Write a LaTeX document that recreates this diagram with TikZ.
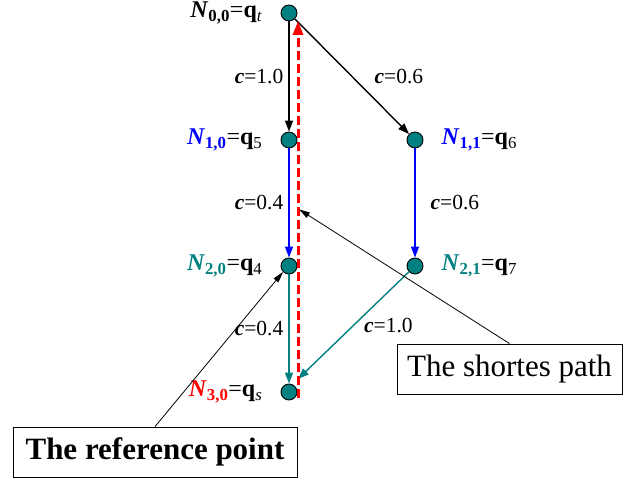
\documentclass[tikz,border=0pt]{standalone}
\usepackage{fontspec}
\setmainfont{Liberation Serif}
\usetikzlibrary{arrows.meta,positioning,calc}

\definecolor{nodeteal}{RGB}{0,128,128}
\newcommand{\nname}[3]{{\color{#1}\textbf{\textit{N}\textsubscript{#2}}}=\textbf{q}\textsubscript{#3}}
\newcommand{\cost}[1]{\textbf{\textit{c}}=#1}

\begin{document}
\begin{tikzpicture}[x=1pt, y=-1pt,
    vertex/.style={circle, draw, fill=nodeteal, minimum size=16pt, inner sep=0pt, line width=0.9pt},
    arrow/.style={-{Triangle[length=11pt,width=8pt]}, line width=1.4pt},
    tag/.style={inner sep=0pt, font=\fontsize{24}{28}\selectfont},
    weight/.style={inner sep=0pt, font=\fontsize{21.5}{25}\selectfont},
    callout/.style={draw, line width=0.8pt, minimum height=50pt, font=\fontsize{31}{36}\selectfont},
    pointer/.style={-{Triangle[length=11pt,width=6pt]}, line width=0.8pt},
    shortest/.style={-{Triangle[length=14pt,width=10pt]}, red, dash pattern=on 9pt off 4pt, line width=3pt}
]
\useasboundingbox (0,0) rectangle (637,481);

% Search tree nodes
\node[vertex] (n00) at (289,13) {};
\node[vertex] (n10) at (289,140) {};
\node[vertex] (n11) at (415,140) {};
\node[vertex] (n20) at (289,266) {};
\node[vertex] (n21) at (415,266) {};
\node[vertex] (n30) at (289,392) {};

% Node names
\node[tag, left=18pt of n00] (l00) {\nname{black}{0,0}{\textit{t}}};
\node[tag, left=18pt of n10] (l10) {\nname{blue}{1,0}{5}};
\node[tag, right=18pt of n11] (l11) {\nname{blue}{1,1}{6}};
\node[tag, left=18pt of n20] (l20) {\nname{nodeteal}{2,0}{4}};
\node[tag, right=18pt of n21] (l21) {\nname{nodeteal}{2,1}{7}};
\node[tag, left=18pt of n30] (l30) {\nname{red}{3,0}{\textit{s}}};

% Edges with costs
\draw[arrow] (n00) -- (n10) node[weight, midway, left=5pt] {\cost{1.0}};
\draw[arrow] (n00) -- (n11) node[weight, midway, right=22pt] {\cost{0.6}};
\draw[arrow, blue] (n10) -- (n20) node[weight, midway, left=5pt, black] {\cost{0.4}};
\draw[arrow, blue] (n11) -- (n21) node[weight, midway, right=15pt, black] {\cost{0.6}};
\draw[arrow, nodeteal] (n20) -- (n30) node[weight, midway, left=5pt, black] {\cost{0.4}};
\coordinate (hit) at ($(n30)+(9,-13)$);
\draw[arrow, nodeteal] (n21) -- (hit) node[weight, midway, right=10pt, black] {\cost{1.0}};

% Shortest path back to the root
\draw[shortest] ([xshift=9pt, yshift=-6pt]n30.center) -- ([xshift=9pt, yshift=-8pt]n00.center);

% Callouts
\node[callout, minimum width=225pt] (sp) at (509.5,369) {The shortes path};
\node[callout, minimum width=284pt, font=\fontsize{31}{36}\selectfont\bfseries] (rp) at (155,452) {The reference point};
\coordinate (mark) at ($(n10)!0.55!(n20)+(10,0)$);
\draw[pointer] (sp.north) -- (mark);
\draw[pointer] (rp.north) -- (n20.south west);

\end{tikzpicture}
\end{document}
